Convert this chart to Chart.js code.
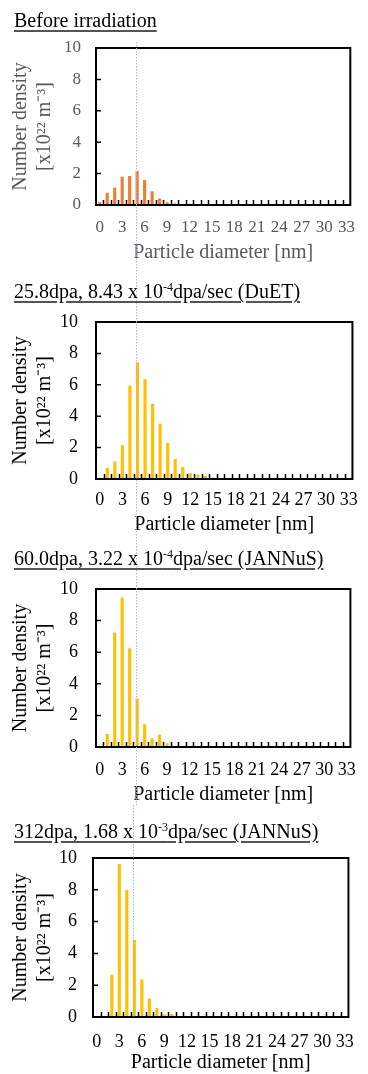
<!DOCTYPE html>
<html>
<head>
<meta charset="utf-8">
<script src="https://cdn.jsdelivr.net/npm/chart.js@4.4.1/dist/chart.umd.min.js"></script>
<style>
  body { margin: 0; background: #fff; }
  #page { position: relative; width: 368px; height: 1074px; overflow: hidden; }
  #page canvas { position: absolute; left: 0; }
  .panel-title {
    position: absolute; left: 14px; margin: 0;
    font: 20px/20px "Liberation Serif", serif; color: #000;
    text-decoration: underline; text-decoration-color: #555;
    text-underline-offset: 3px; white-space: nowrap;
  }
  .panel-title sup { font-size: 12px; line-height: 0; vertical-align: 7px; }
</style>
</head>
<body>
<div id="page">
  <canvas id="chart1" width="368" height="270" style="top:0px"></canvas>
  <canvas id="chart2" width="368" height="270" style="top:270px"></canvas>
  <canvas id="chart3" width="368" height="265" style="top:540px"></canvas>
  <canvas id="chart4" width="368" height="269" style="top:805px"></canvas>
  <div class="panel-title" style="top:10px">Before irradiation</div>
  <div class="panel-title" style="top:281px">25.8dpa, 8.43 x 10<sup>-4</sup>dpa/sec (DuET)</div>
  <div class="panel-title" style="top:548px">60.0dpa, 3.22 x 10<sup>-4</sup>dpa/sec (JANNuS)</div>
  <div class="panel-title" style="top:821px">312dpa, 1.68 x 10<sup>-3</sup>dpa/sec (JANNuS)</div>
</div>
<script>
// Particle diameter bins [nm]
const diameters = ['0', '1', '2', '3', '4', '5', '6', '7', '8', '9', '10', '11', '12', '13', '14', '15', '16',
    '17', '18', '19', '20', '21', '22', '23', '24', '25', '26', '27', '28', '29', '30', '31', '32', '33'];

// Number density [x10^22 m^-3] per bin
const beforeIrradiation = [0.17, 0.78, 1.1, 1.8, 1.85, 2.17, 1.6, 0.88, 0.42, 0.18, 0.1, 0.06, 0.08,
    0, 0, 0, 0, 0, 0, 0, 0, 0, 0, 0, 0, 0, 0, 0, 0, 0, 0, 0, 0, 0];
const duet258 = [0, 0.7, 1.12, 2.15, 5.95, 7.44, 6.35, 4.8, 3.52, 2.3, 1.27, 0.76, 0.37, 0.28, 0.19, 0.1,
    0, 0, 0, 0, 0.05, 0, 0, 0, 0, 0, 0, 0, 0, 0, 0, 0, 0, 0];
const jannus600 = [0.08, 0.82, 7.25, 9.46, 6.25, 3.07, 1.44, 0.56, 0.77, 0.23, 0.07,
    0, 0, 0, 0, 0, 0, 0, 0, 0, 0, 0, 0, 0, 0, 0, 0, 0, 0, 0, 0, 0, 0, 0];
const jannus312 = [0, 0, 2.65, 9.62, 7.98, 4.86, 2.36, 1.17, 0.57, 0.17, 0.19,
    0, 0, 0, 0, 0, 0, 0, 0, 0, 0, 0, 0, 0, 0, 0, 0, 0, 0, 0, 0, 0, 0, 0];

// Y axis ticks and the dotted reference diameter
const densityTicks = [0, 2, 4, 6, 8, 10];
const guideDiameter = 4.8;

Chart.defaults.font.family = '"Liberation Serif", serif';
Chart.defaults.animation = false;

// Frame, inward tick marks and dotted guide line
const framePlugin = {
    id: 'frame',
    afterDatasetsDraw(chart, args, opts) {
        const { ctx, chartArea: a, scales: { x, y } } = chart;
        ctx.save();
        ctx.strokeStyle = '#000';
        ctx.lineWidth = 1.5;
        ctx.beginPath();
        for (let i = 0; i < diameters.length - 1; i++) {
            const px = Math.round(x.getPixelForValue(i + 0.5)) + 0.5;
            ctx.moveTo(px, a.bottom);
            ctx.lineTo(px, a.bottom - 5);
        }
        densityTicks.forEach(v => {
            const py = y.getPixelForValue(v);
            ctx.moveTo(a.left, py);
            ctx.lineTo(a.left + 5, py);
        });
        ctx.stroke();
        ctx.lineWidth = 2;
        ctx.strokeRect(a.left, a.top, a.width, a.height);

        const gx = Math.round(x.getPixelForValue(guideDiameter)) + 0.5;
        ctx.strokeStyle = '#9dbde6';
        ctx.lineWidth = 1;
        ctx.setLineDash([1.5, 1.5]);
        ctx.beginPath();
        ctx.moveTo(gx, opts.fromArea ? a.top - 6 : 0);
        ctx.lineTo(gx, opts.toArea ? a.bottom : chart.height);
        ctx.stroke();
        ctx.restore();
    }
};

// Layout of each panel inside its canvas
const panels = [
    { id: 'chart1', data: beforeIrradiation, color: '#ed7d31', text: '#595959', tickSize: 17,
      top: 48, bottom: 205, left: 96, right: 359, labelGap: 23, titleGap: 48, yPad: 15, fromArea: true },
    { id: 'chart2', data: duet258, color: '#ffc000', text: '#000', tickSize: 18,
      top: 52, bottom: 209, left: 96, right: 359, labelGap: 21, titleGap: 46, yPad: 18 },
    { id: 'chart3', data: jannus600, color: '#ffc000', text: '#000', tickSize: 18,
      top: 49, bottom: 207, left: 96, right: 359, labelGap: 23, titleGap: 48, yPad: 18 },
    { id: 'chart4', data: jannus312, color: '#ffc000', text: '#000', tickSize: 18,
      top: 53, bottom: 212, left: 93, right: 360, labelGap: 25, titleGap: 46, yPad: 16, toArea: true }
];

panels.forEach(p => {
    const canvas = document.getElementById(p.id);
    const h = canvas.height;
    const tickLine = p.tickSize * 1.2;
    new Chart(canvas.getContext('2d'), {
        type: 'bar',
        data: {
            labels: diameters,
            datasets: [{
                data: p.data,
                backgroundColor: p.color,
                categoryPercentage: 1,
                barPercentage: 0.42
            }]
        },
        options: {
            responsive: false,
            layout: { padding: { top: p.top, right: canvas.width - p.right, bottom: 0, left: 0 } },
            plugins: {
                legend: { display: false },
                tooltip: { enabled: false },
                frame: { fromArea: !!p.fromArea, toArea: !!p.toArea }
            },
            scales: {
                x: {
                    grid: { display: false, drawTicks: false },
                    border: { display: false },
                    afterFit: s => { s.height = h - p.bottom; },
                    ticks: {
                        color: p.text,
                        font: { size: p.tickSize },
                        padding: p.labelGap - tickLine / 2,
                        autoSkip: false,
                        maxRotation: 0,
                        callback(v, i) { return i % 3 === 0 ? this.getLabelForValue(v) : ''; }
                    },
                    title: {
                        display: true,
                        text: 'Particle diameter [nm]',
                        color: p.text,
                        font: { size: 20 },
                        padding: { top: 0, bottom: (h - p.bottom - p.titleGap) - 12 }
                    }
                },
                y: {
                    min: 0,
                    max: 10,
                    grid: { display: false, drawTicks: false },
                    border: { display: false },
                    afterFit: s => { s.width = p.left; },
                    afterBuildTicks: s => { s.ticks = densityTicks.map(v => ({ value: v })); },
                    ticks: { color: p.text, font: { size: p.tickSize }, padding: p.yPad },
                    title: {
                        display: true,
                        text: ['Number density', '[x10²² m⁻³]'],
                        color: p.text,
                        font: { size: 20 },
                        padding: { top: 9, bottom: 0 }
                    }
                }
            }
        },
        plugins: [framePlugin]
    });
});
</script>
</body>
</html>
